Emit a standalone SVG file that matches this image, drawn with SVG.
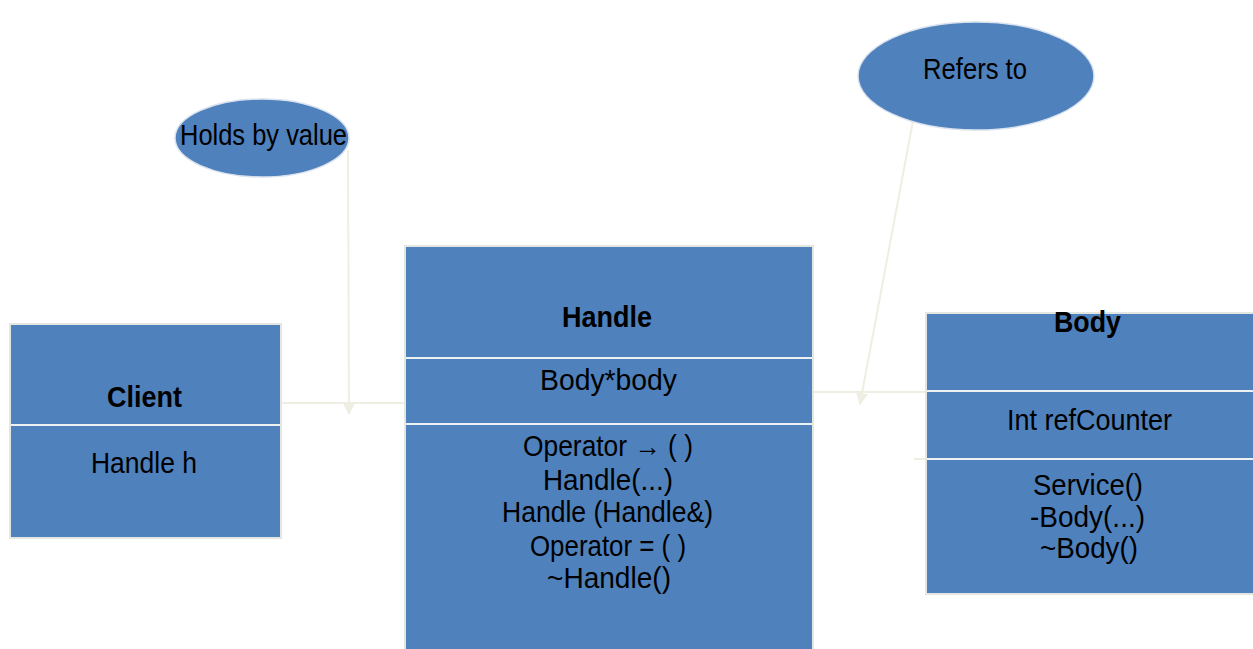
<svg xmlns="http://www.w3.org/2000/svg" width="1253" height="649" viewBox="0 0 1253 649">
  <style>
    .box { fill: #4f81bd; stroke: #e4e6e2; stroke-width: 2; }
    .div { stroke: #eef1f4; stroke-width: 2; }
    .note { fill: #4f81bd; stroke: #d9e2ee; stroke-width: 1.5; }
    .link { stroke: #efeee2; stroke-width: 2; fill: none; }
    text { font-family: "Liberation Sans", Arial, sans-serif; font-size: 29px; fill: #000; text-anchor: middle; }
    .b { font-weight: bold; }
  </style>
  <defs>
    <marker id="tip" viewBox="0 0 10 10" refX="9" refY="5" markerWidth="6" markerHeight="6" orient="auto" markerUnits="strokeWidth">
      <path d="M0,0 L10,5 L0,10 Z" fill="#efeee2"/>
    </marker>
  </defs>

  <!-- connectors -->
  <g id="connectors">
    <line class="link" x1="281" y1="403" x2="406" y2="403"/>
    <line class="link" x1="348" y1="150" x2="349" y2="414" marker-end="url(#tip)"/>
    <line class="link" x1="813" y1="392" x2="926" y2="392"/>
    <line class="link" x1="915" y1="110" x2="860" y2="404" marker-end="url(#tip)"/>
    <line class="link" x1="914" y1="459" x2="926" y2="459"/>
  </g>

  <!-- notes -->
  <g id="note-holds">
    <ellipse class="note" cx="262" cy="138" rx="87" ry="39"/>
    <text x="263.5" y="145" textLength="167" lengthAdjust="spacingAndGlyphs">Holds by value</text>
  </g>
  <g id="note-refers">
    <ellipse class="note" cx="976" cy="76" rx="118" ry="54"/>
    <text x="975" y="79" textLength="104" lengthAdjust="spacingAndGlyphs">Refers to</text>
  </g>

  <!-- Client class -->
  <g id="client">
    <rect class="box" x="10" y="324" width="271" height="214"/>
    <line class="div" x1="11" y1="425" x2="280" y2="425"/>
    <text class="b" x="144.5" y="407" textLength="75" lengthAdjust="spacingAndGlyphs">Client</text>
    <text x="144" y="473" textLength="106" lengthAdjust="spacingAndGlyphs">Handle h</text>
  </g>

  <!-- Handle class -->
  <g id="handle">
    <rect class="box" x="405" y="246" width="408" height="410"/>
    <line class="div" x1="406" y1="358" x2="812" y2="358"/>
    <line class="div" x1="406" y1="424" x2="812" y2="424"/>
    <text class="b" x="607" y="327" textLength="90" lengthAdjust="spacingAndGlyphs">Handle</text>
    <text x="608.5" y="390" textLength="137" lengthAdjust="spacingAndGlyphs">Body*body</text>
    <text x="608" y="456" textLength="170" lengthAdjust="spacingAndGlyphs">Operator → ( )</text>
    <text x="608" y="490" textLength="130" lengthAdjust="spacingAndGlyphs">Handle(...)</text>
    <text x="607.5" y="522" textLength="211" lengthAdjust="spacingAndGlyphs">Handle (Handle&amp;)</text>
    <text x="608" y="556" textLength="156" lengthAdjust="spacingAndGlyphs">Operator = ( )</text>
    <text x="609" y="588" textLength="124" lengthAdjust="spacingAndGlyphs">~Handle()</text>
  </g>

  <!-- Body class -->
  <g id="body">
    <rect class="box" x="926" y="313" width="330" height="281"/>
    <line class="div" x1="927" y1="391" x2="1253" y2="391"/>
    <line class="div" x1="927" y1="459" x2="1253" y2="459"/>
    <text class="b" x="1087.5" y="332" textLength="67" lengthAdjust="spacingAndGlyphs">Body</text>
    <text x="1089.5" y="430" textLength="165" lengthAdjust="spacingAndGlyphs">Int refCounter</text>
    <text x="1088" y="495" textLength="110" lengthAdjust="spacingAndGlyphs">Service()</text>
    <text x="1087.5" y="527" textLength="115" lengthAdjust="spacingAndGlyphs">-Body(...)</text>
    <text x="1089" y="558" textLength="98" lengthAdjust="spacingAndGlyphs">~Body()</text>
  </g>
</svg>
